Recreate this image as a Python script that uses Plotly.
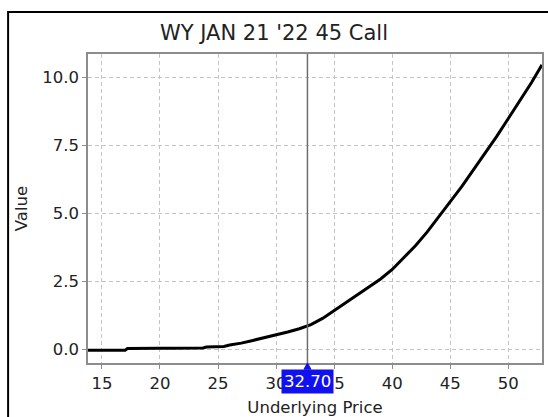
import plotly.graph_objects as go

# ---- data ----
underlying_price = [13.8, 15, 16, 17, 17.2, 18, 19, 20, 21, 22, 23, 23.7, 24, 25, 25.5,
                    26, 27, 28, 29, 30, 31, 32, 32.7, 33, 34, 35, 36, 37, 38, 39, 40,
                    41, 42, 43, 44, 45, 46, 47, 48, 49, 50, 51, 52, 52.9]
option_value = [-0.04, -0.04, -0.04, -0.04, 0.02, 0.03, 0.03, 0.03, 0.03, 0.03, 0.04, 0.04,
                0.08, 0.09, 0.10, 0.15, 0.22, 0.32, 0.42, 0.52, 0.63, 0.75, 0.85, 0.90,
                1.13, 1.42, 1.68, 1.97, 2.26, 2.58, 2.93, 3.35, 3.80, 4.30, 4.88, 5.42,
                5.98, 6.58, 7.20, 7.82, 8.48, 9.12, 9.80, 10.45]
x_tick_values = [15, 20, 25, 30, 35, 40, 45, 50]
y_tick_values = [0.0, 2.5, 5.0, 7.5, 10.0]
y_tick_labels = ["0.0", "2.5", "5.0", "7.5", "10.0"]
crosshair_price = 32.70
chart_title = "WY JAN 21 '22 45 Call"

FONT = "DejaVu Sans"

fig = go.Figure()
fig.add_trace(go.Scatter(
    x=underlying_price, y=option_value, mode="lines",
    line=dict(color="black", width=3), hoverinfo="skip", showlegend=False,
))

# crosshair
fig.add_shape(type="line", xref="x", yref="paper", x0=crosshair_price, x1=crosshair_price,
              y0=0, y1=1, line=dict(color="#6e6e6e", width=1.5))
# triangle pointer
fig.add_shape(type="path", xref="x", yref="paper",
              path=f"M {crosshair_price-0.3},-0.02 L {crosshair_price},0 L {crosshair_price+0.3},-0.02 Z",
              fillcolor="#1010f0", line=dict(color="#1010f0", width=1))
fig.add_annotation(
    x=crosshair_price, xref="x", y=-0.019, yref="paper", yanchor="top",
    text=f"{crosshair_price:.2f}", showarrow=False,
    font=dict(family=FONT, size=16.5, color="white"),
    bgcolor="#1010f0", borderpad=2,
)

# outer black frame
fig.add_shape(type="rect", xref="paper", yref="paper",
              x0=-0.176, x1=1.2, y0=-0.4, y1=1.136,
              line=dict(color="black", width=2), fillcolor="rgba(0,0,0,0)", layer="below")

axis_common = dict(
    showline=True, linecolor="#8c8c8c", linewidth=1.5, mirror=True,
    ticks="outside", tickcolor="#8c8c8c", ticklen=4, tickwidth=1,
    showgrid=True, gridcolor="#c4c4c4", gridwidth=1, griddash="4px,3px",
    zeroline=False, tickfont=dict(family=FONT, size=16.5, color="#222"),
    automargin=False,
)

fig.update_layout(
    width=548, height=417,
    margin=dict(l=88, r=6, t=54, b=54, autoexpand=False),
    paper_bgcolor="white", plot_bgcolor="white",
    title=dict(text=chart_title, x=0.5, xref="container", xanchor="center",
               y=1 - 33 / 417, yref="container", yanchor="middle",
               font=dict(family=FONT, size=21, color="#222")),
    xaxis=dict(range=[13.8, 52.9], tickvals=x_tick_values,
               title=dict(text="Underlying Price", font=dict(family=FONT, size=16.5, color="#222"),
                          standoff=10),
               **axis_common),
    yaxis=dict(range=[-0.51, 10.85], tickvals=y_tick_values, ticktext=y_tick_labels,
               title=dict(text="Value", font=dict(family=FONT, size=16.5, color="#222"),
                          standoff=10),
               **axis_common),
)

fig.write_html("out.html", config={"displayModeBar": False},
               post_script="document.body.style.margin='0';document.body.style.overflow='hidden';")
